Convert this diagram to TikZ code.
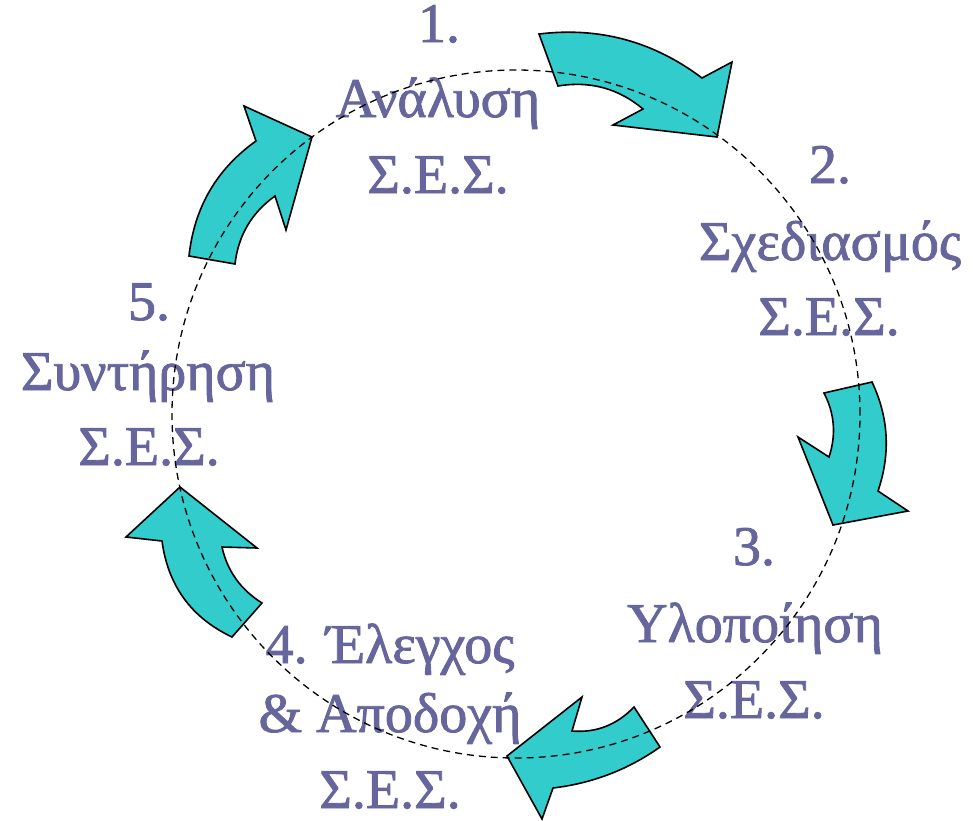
\documentclass[tikz,border=0pt]{standalone}
\usepackage{fontspec}
\setmainfont{Liberation Serif}[FakeBold=1.5]
\usepackage{tikz}
\usetikzlibrary{calc}

\definecolor{cyclefill}{RGB}{51,204,204}
\definecolor{cycletext}{RGB}{102,102,156}

\begin{document}
\begin{tikzpicture}[x=1pt,y=-1pt,
    arrowbody/.style={fill=cyclefill, draw=black, line width=1.6pt, line join=miter},
    lbl/.style={text=cycletext, anchor=base, inner sep=0pt, font=\fontsize{56}{66}\selectfont},
    orbit/.style={draw=black, line width=1.3pt, dash pattern=on 7pt off 5pt}]
    \useasboundingbox (0,0) rectangle (974,820);

    % Nyilak (kitoltott, fekete kontur)
    % 1 -> 2
    \filldraw[arrowbody] (539,34) .. controls (599,26.7) and (653.3,41.3) .. (702,78) -- (732,62)
        -- (717,137) -- (613,125) -- (643,109) .. controls (618.3,88.3) and (590,80.7) .. (558,86) -- cycle;
    % 2 -> 3
    \filldraw[arrowbody] (872,382) .. controls (888.7,417.3) and (890.7,453.7) .. (878,491) -- (908,511)
        -- (833,525) -- (798,437) -- (829,457) .. controls (836.3,435) and (834.7,413.7) .. (824,393) -- cycle;
    % 3 -> 4
    \filldraw[arrowbody] (660,747) .. controls (628,769.7) and (592.3,783.3) .. (553,788) -- (542,819)
        -- (507,756) -- (582,697) -- (572,731) .. controls (596,733) and (616.7,725) .. (634,707) -- cycle;
    % 4 -> 5
    \filldraw[arrowbody] (180,487) -- (126,537) -- (162,541) .. controls (168,585.7) and (191.3,617.7) .. (232,637)
        -- (262,603) .. controls (240.7,589.7) and (227.3,571) .. (222,547) -- (257,548) -- cycle;
    % 5 -> 1
    \filldraw[arrowbody] (312,137) -- (244,106) -- (256,141) .. controls (216.7,169) and (194.3,207.3) .. (189,256)
        -- (235,264) .. controls (238.3,235.3) and (251.7,212.7) .. (275,196) -- (286,230) -- cycle;

    % Feliratok
    \node[lbl] (analysi1) at (439,42) {1.};
    \node[lbl] (analysi2) at (438,117) {Ανάλυση};
    \node[lbl] (analysi3) at (438,193) {Σ.Ε.Σ.};

    \node[lbl] (sxediasmos1) at (830,183) {2.};
    \node[lbl] (sxediasmos2) at (830,260) {Σχεδιασμός};
    \node[lbl] (sxediasmos3) at (829,335) {Σ.Ε.Σ.};

    \node[lbl] (ylopoiisi1) at (754,565) {3.};
    \node[lbl] (ylopoiisi2) at (755,642) {Υλοποίηση};
    \node[lbl] (ylopoiisi3) at (754,718) {Σ.Ε.Σ.};

    \node[lbl] (elegxos1) at (390,663) {4. Έλεγχος};
    \node[lbl] (elegxos2) at (390,732) {\& Αποδοχή};
    \node[lbl] (elegxos3) at (390,808) {Σ.Ε.Σ.};

    \node[lbl] (syntirisi1) at (149,320) {5.};
    \node[lbl] (syntirisi2) at (148,390) {Συντήρηση};
    \node[lbl] (syntirisi3) at (149,465) {Σ.Ε.Σ.};

    % Szaggatott kor
    \draw[orbit] (516,414) circle[radius=344pt];
\end{tikzpicture}
\end{document}
